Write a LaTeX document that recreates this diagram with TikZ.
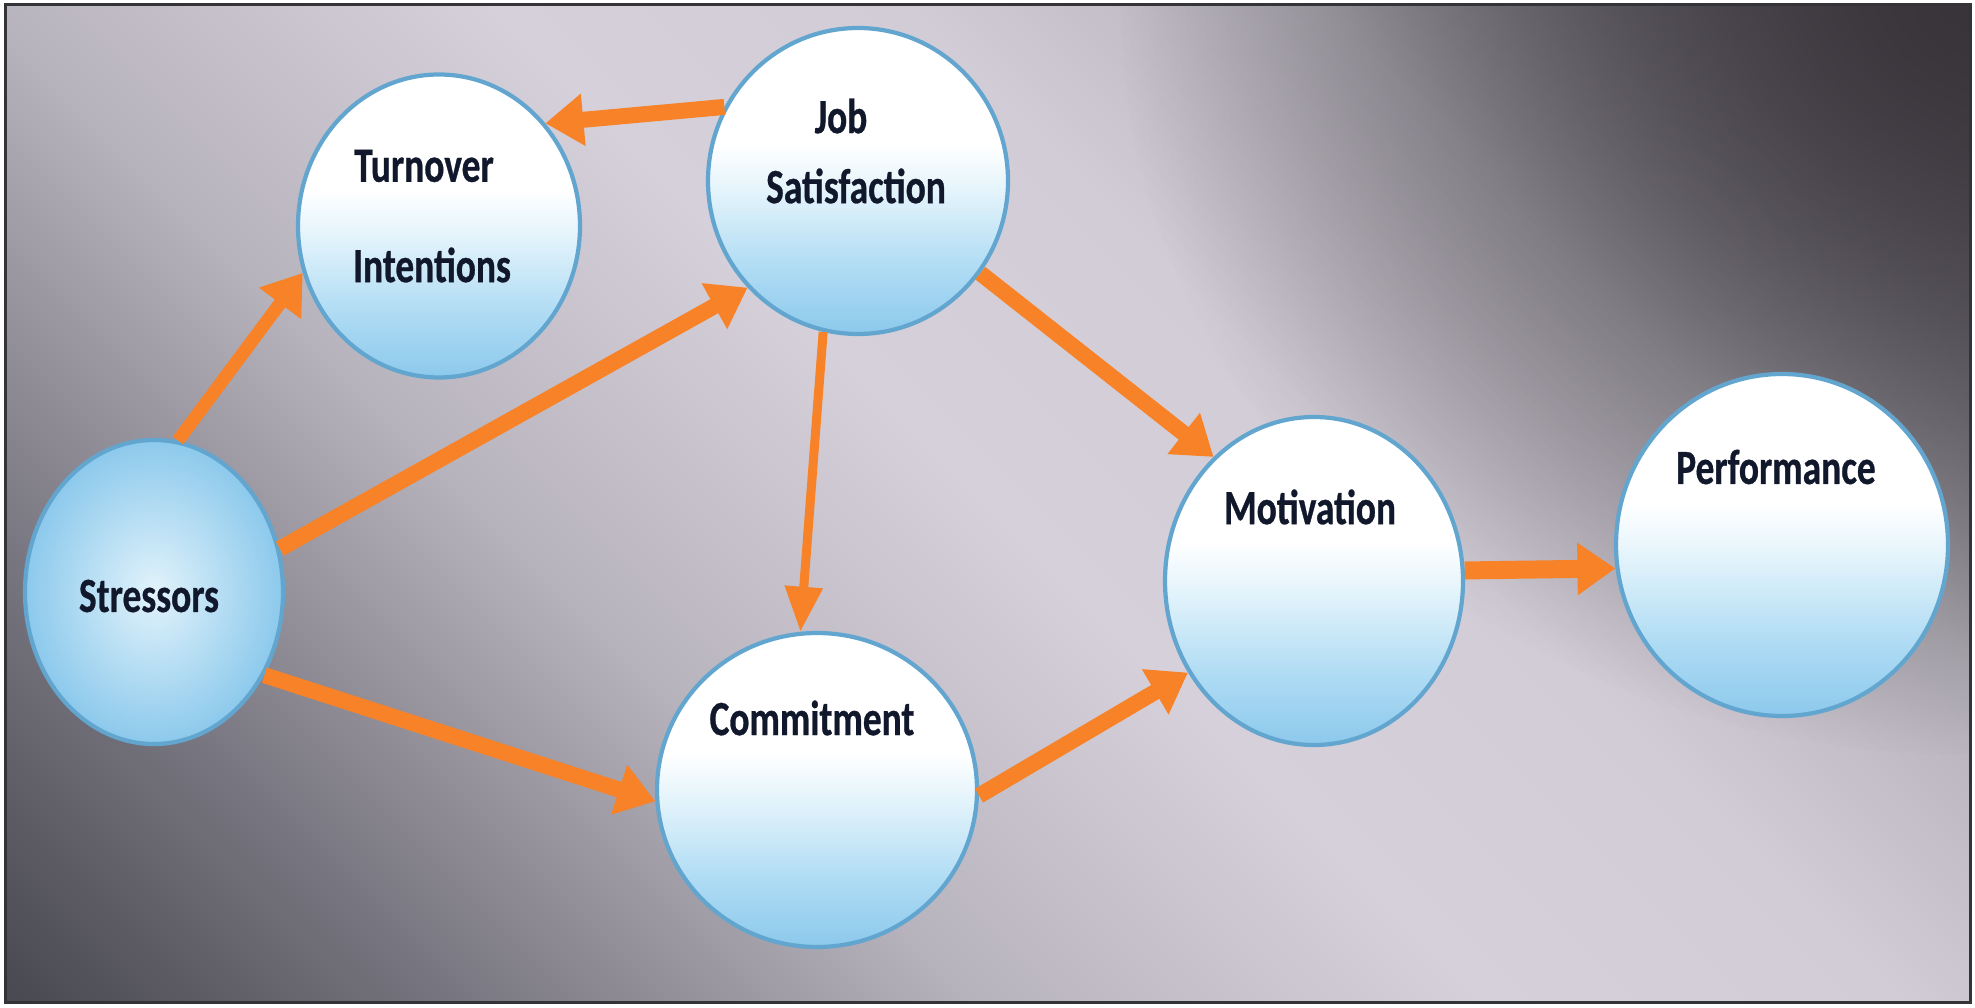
\documentclass[tikz,border=0pt]{standalone}
\usepackage{fontspec}
\newfontfamily\lblfont{Carlito}[FakeStretch=0.76, FakeBold=0.6]
\usetikzlibrary{shapes.geometric,arrows.meta,fadings}

\definecolor{flowc}{RGB}{247,130,40}
\definecolor{inkc}{RGB}{17,24,44}
\definecolor{rimc}{RGB}{98,166,208}
\definecolor{bubdark}{RGB}{140,201,236}
\definecolor{bubmid}{RGB}{176,220,244}
\definecolor{bubpale}{RGB}{226,243,251}
\definecolor{bgA}{RGB}{74,74,82}
\definecolor{bgB}{RGB}{118,116,126}
\definecolor{bgC}{RGB}{184,180,190}
\definecolor{bgD}{RGB}{214,208,218}
\definecolor{bgE}{RGB}{210,204,214}
\definecolor{bgF}{RGB}{180,176,184}
\definecolor{bgG}{RGB}{124,120,128}
\definecolor{bgH}{RGB}{80,76,82}
\definecolor{spotc}{RGB}{56,52,58}
\definecolor{framec}{RGB}{52,52,56}

% backdrop: light band from top left to bottom right
\pgfdeclareverticalshading{backdrop}{100bp}{color(0bp)=(bgA); color(15bp)=(bgA);
  color(25bp)=(bgB); color(38bp)=(bgC); color(50bp)=(bgD); color(60bp)=(bgE);
  color(70bp)=(bgF); color(78bp)=(bgG); color(85bp)=(bgH); color(100bp)=(bgH)}
% bubbles: white on top, pale blue below
\pgfdeclareverticalshading{bubblefill}{100bp}{color(0bp)=(bubdark); color(25bp)=(bubdark);
  color(36bp)=(bubmid); color(48bp)=(bubpale); color(56bp)=(white); color(100bp)=(white)}
% dark spot in the upper right corner
\tikzfading[name=cornerfade, inner color=transparent!0, outer color=transparent!100]

\begin{document}
\begin{tikzpicture}[
   blob/.style={ellipse, draw=rimc, line width=1.2pt, shading=bubblefill, inner sep=0pt},
   caption/.style={font=\lblfont\bfseries\fontsize{14}{16}\selectfont, text=inkc, inner sep=0pt},
   flow/.style={draw=flowc, line width=0.16cm, -{Triangle[length=0.38cm, width=0.5cm]}},
   thinflow/.style={line width=0.09cm, -{Triangle[length=0.45cm, width=0.36cm]}}]

   \useasboundingbox (0,0) rectangle (19.75,10.07);
   \fill[white] (0,0) rectangle (19.75,10.07);
   \shade[shading=backdrop, shading angle=-45] (0.05,0.05) rectangle (19.70,10.02);
   \begin{scope}
      \clip (0.05,0.05) rectangle (19.70,10.02);
      \fill[spotc, path fading=cornerfade] (19.70,10.02) ellipse (8.5cm and 7.5cm);
   \end{scope}
   \draw[framec, line width=0.03cm] (0.05,0.05) rectangle (19.70,10.02);

   % the six factors
   \node[blob, minimum width=2.82cm, minimum height=3.03cm] (ti) at (4.39,7.81) {};
   \node[blob, minimum width=3.00cm, minimum height=3.06cm] (js) at (8.58,8.26) {};
   \node[blob, shading=radial, inner color=bubpale, outer color=bubdark,
         minimum width=2.58cm, minimum height=3.04cm] (st) at (1.54,4.15) {};
   \node[blob, minimum width=3.20cm, minimum height=3.14cm] (cm) at (8.17,2.17) {};
   \node[blob, minimum width=2.98cm, minimum height=3.28cm] (mo) at (13.14,4.26) {};
   \node[blob, minimum width=3.32cm, minimum height=3.42cm] (pf) at (17.82,4.62) {};

   \node[caption] (ti-a) at ([shift={(-0.15,0.60)}]ti.center) {Turnover};
   \node[caption] (ti-b) at ([shift={(-0.07,-0.39)}]ti.center) {Intentions};
   \node[caption] (js-a) at ([shift={(-0.17,0.65)}]js.center) {Job};
   \node[caption] (js-b) at ([shift={(-0.02,-0.05)}]js.center) {Satisfaction};
   \node[caption] (st-a) at ([shift={(-0.05,-0.04)}]st.center) {Stressors};
   \node[caption] (cm-a) at ([shift={(-0.05,0.72)}]cm.center) {Commitment};
   \node[caption] (mo-a) at ([shift={(-0.04,0.74)}]mo.center) {Motivation};
   \node[caption] (pf-a) at ([shift={(-0.06,0.78)}]pf.center) {Performance};

   % paths between them
   \draw[flow] (js.151) -- (ti.44);
   \draw[flow, line width=0.13cm] (st.81) -- (ti.199);
   \draw[flow] (st.19) -- (js.224);
   \draw[flow] (st.323) -- (cm.184);
   \draw[flow, thinflow] (js.257) -- (cm.96);
   \draw[flow] (js.323) -- (mo.129);
   \draw[flow] (cm.358) -- (mo.216);
   \draw[flow, line width=0.18cm] (mo.4) -- (pf.188);

\end{tikzpicture}
\end{document}
